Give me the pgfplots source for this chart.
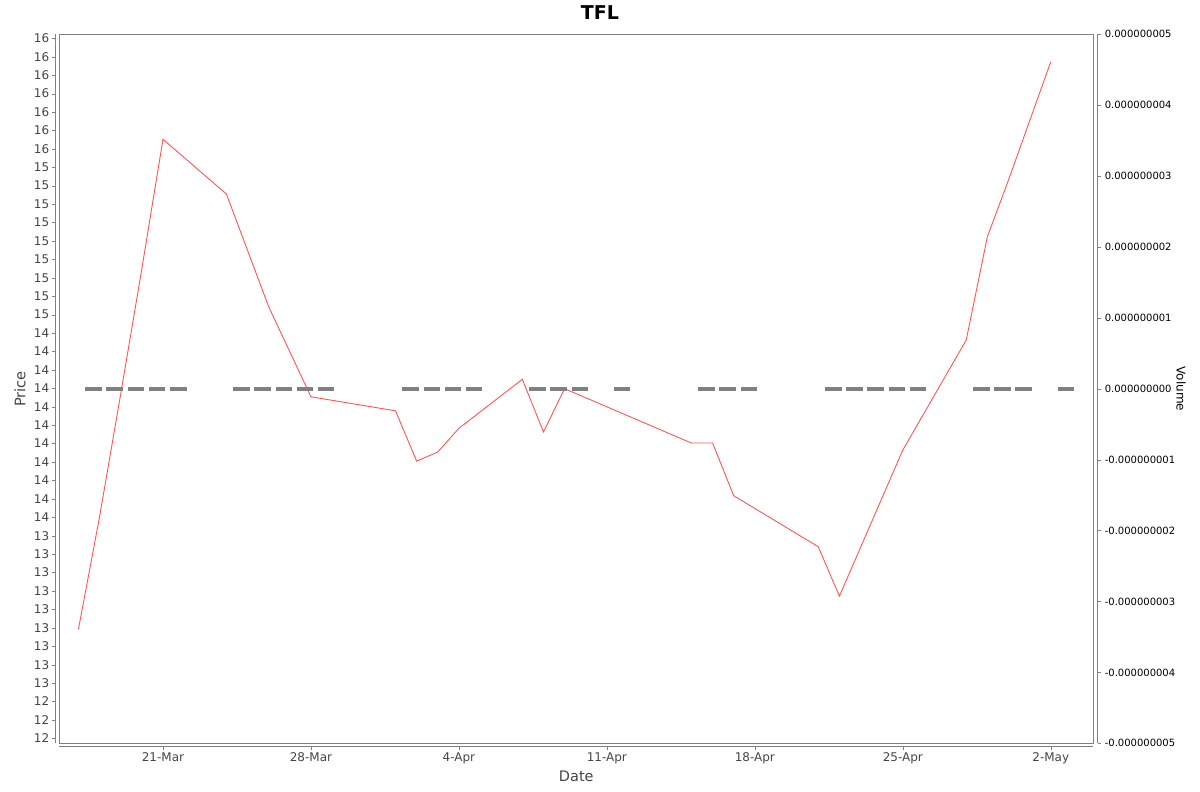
\documentclass[border=0pt]{standalone}
\usepackage{fontspec}
\setmainfont{DejaVu Sans}
\usepackage{pgfplots}
\usepackage{pgfplotstable}
\pgfplotsset{compat=1.18}

\definecolor{priceline}{RGB}{255,85,85}
\definecolor{volbar}{RGB}{128,128,128}
\definecolor{axisgray}{RGB}{128,128,128}
\definecolor{labelgray}{RGB}{68,68,68}

% day 0 = 21-Mar
\pgfplotstableread{
day price
-4 12.892
-3 13.503
-2 14.169
-1 14.849
0  15.552
3  15.255
5  14.643
7  14.154
11 14.078
12 13.805
13 13.854
14 13.983
17 14.249
18 13.963
19 14.198
25 13.903
26 13.903
27 13.617
31 13.340
32 13.072
35 13.865
38 14.462
39 15.023
40 15.331
42 15.973
}\pricedata

\pgfplotstableread{
day volume
-4 0
-3 0
-2 0
-1 0
0  0
3  0
4  0
5  0
6  0
7  0
11 0
12 0
13 0
14 0
17 0
18 0
19 0
21 0
25 0
26 0
27 0
31 0
32 0
33 0
34 0
35 0
38 0
39 0
40 0
42 0
}\volumedata

\begin{document}
\begin{tikzpicture}[x=1pt,y=1pt]
\path[use as bounding box] (0,0) rectangle (1200,792);

% price axis
\begin{axis}[
    at={(59.3pt,48.7pt)}, anchor=south west,
    scale only axis, width=1034pt, height=709pt,
    xmin=-4.905, xmax=44.01,
    ymin=12.273, ymax=16.122,
    axis line style={draw=none},
    xtick pos=lower, ytick pos=left,
    tick align=outside,
    major tick length=3pt,
    xtick={0,7,14,21,28,35,42},
    xticklabels={21-Mar,28-Mar,4-Apr,11-Apr,18-Apr,25-Apr,2-May},
    ytick={12.3,12.4,...,16.15},
    yticklabels={12,12,12,13,13,13,13,13,13,13,13,13,14,14,14,14,14,14,14,14,14,14,14,15,15,15,15,15,15,15,15,15,16,16,16,16,16,16,16},
    xtick style={axisgray, yshift=-3.4pt},
    ytick style={axisgray, xshift=-4.3pt},
    xticklabel style={font=\fontsize{12}{14}\selectfont, text=labelgray, yshift=-3pt},
    yticklabel style={font=\fontsize{12}{14}\selectfont, text=labelgray, xshift=-3.5pt},
    clip=false,
]
    \draw[axisgray, line width=0.8pt] (rel axis cs:0,0) rectangle (rel axis cs:1,1);
    \draw[axisgray, line width=0.8pt] ([xshift=-4.3pt]rel axis cs:0,0) -- ([xshift=-4.3pt]rel axis cs:0,1);
    \draw[axisgray, line width=0.8pt] ([yshift=-3.4pt]rel axis cs:0,0) -- ([yshift=-3.4pt]rel axis cs:1,0);
    \addplot[priceline, line width=0.9pt, mark=none] table[x=day, y=price] {\pricedata};
\end{axis}

% volume axis
\begin{axis}[
    at={(59.3pt,48.7pt)}, anchor=south west,
    scale only axis, width=1034pt, height=709pt,
    xmin=-4.905, xmax=44.01,
    ymin=-5e-9, ymax=5e-9,
    hide x axis,
    axis line style={draw=none},
    ytick pos=right,
    tick align=outside,
    major tick length=3pt,
    scaled y ticks=false,
    ytick={-5e-9,-4e-9,-3e-9,-2e-9,-1e-9,0,1e-9,2e-9,3e-9,4e-9,5e-9},
    yticklabels={-0.000000005,-0.000000004,-0.000000003,-0.000000002,-0.000000001,0.000000000,0.000000001,0.000000002,0.000000003,0.000000004,0.000000005},
    ytick style={axisgray, xshift=4.4pt},
    yticklabel style={font=\fontsize{10}{12}\selectfont, text=black, xshift=5pt},
    clip=false,
]
    \draw[axisgray, line width=0.8pt] ([xshift=4.4pt]rel axis cs:1,0) -- ([xshift=4.4pt]rel axis cs:1,1);
    \addplot[only marks, mark=-, mark size=8.3pt,
        mark options={volbar, line width=4pt, line cap=butt},
        x filter/.expression={x+0.72}]
        table[x=day, y=volume] {\volumedata};
\end{axis}

\node[font=\bfseries\fontsize{19}{22}\selectfont] at (600,779) {TFL};
\node[font=\fontsize{14.5}{17}\selectfont, text=labelgray] at (576.3,16) {Date};
\node[font=\fontsize{14.5}{17}\selectfont, text=labelgray, rotate=90] at (20,403) {Price};
\node[font=\fontsize{12}{14}\selectfont, rotate=-90] at (1181,403) {Volume};
\end{tikzpicture}
\end{document}
